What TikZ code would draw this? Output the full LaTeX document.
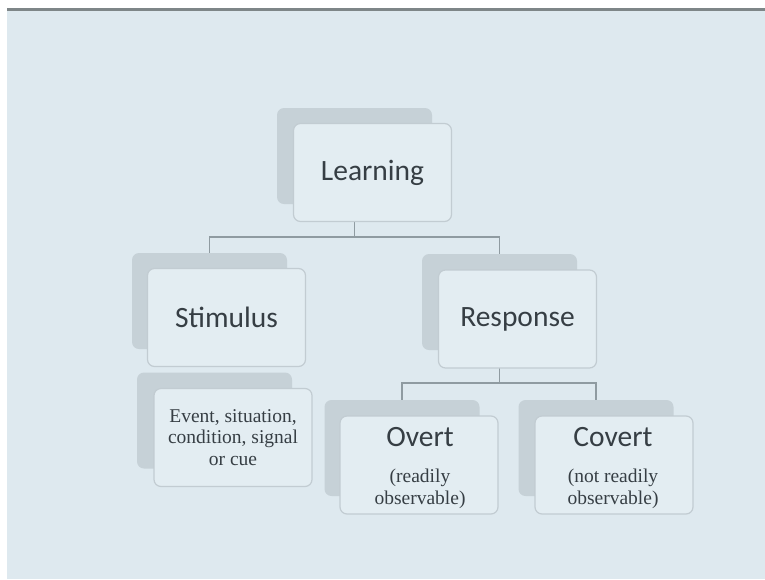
\documentclass[tikz,border=0pt]{standalone}
\usepackage{fontspec}
\setmainfont{Liberation Serif}
\newfontfamily\titlefont{Carlito}
\begin{document}
\begin{tikzpicture}[x=1pt,y=-1pt,
  every node/.style={text=inkgray},
  backbox/.style={rectangle,rounded corners=7pt,fill=shadebox,draw=none,
    minimum width=155pt,minimum height=96pt,inner sep=0pt},
  frontbox/.style={rectangle,rounded corners=7pt,fill=facebox,draw=edgebox,
    line width=1.2pt,minimum width=158pt,minimum height=98pt,inner sep=0pt,
    align=center},
  conn/.style={draw=linegray,line width=1.4pt},
  headtext/.style={font=\titlefont\fontsize{29.5}{31}\selectfont},
  notetext/.style={font=\fontsize{19.5}{21.5}\selectfont}
]
\definecolor{slide}{HTML}{DEE9EF}
\definecolor{shadebox}{HTML}{C6D1D7}
\definecolor{facebox}{HTML}{E3EDF2}
\definecolor{edgebox}{HTML}{C2CCD2}
\definecolor{linegray}{HTML}{8F9BA1}
\definecolor{inkgray}{HTML}{363E44}
\definecolor{rulegray}{HTML}{7E8688}

% slide area with its top rule
\useasboundingbox (0,0) rectangle (765,579);
\fill[white] (0,0) rectangle (765,579);
\fill[slide] (7,10) rectangle (765,579);
\fill[rulegray] (7,8) rectangle (765,10.5);

% shadow boxes
\node[backbox] (learnB) at (354.5,156) {};
\node[backbox] (stimB)  at (209.5,301) {};
\node[backbox] (respB)  at (499.5,302) {};
\node[backbox] (eventB) at (214.5,420.5) {};
\node[backbox] (overtB) at (402,448) {};
\node[backbox] (covB)   at (596,448) {};

% tree connectors
\draw[conn] (learnB.south) -- (learnB.south |- 0,237);
\draw[conn] (stimB.north) -- (stimB.north |- 0,237) -- (respB.north |- 0,237) -- (respB.north);
\draw[conn] (respB.south) -- (respB.south |- 0,383);
\draw[conn] (overtB.north) -- (overtB.north |- 0,383) -- (covB.north |- 0,383) -- (covB.north);

% front boxes
\node[frontbox,headtext] (learn) at (372.5,172.5) {Learning};
\node[frontbox,headtext] (stim)  at (226.5,317.5) {Stimulus};
\node[frontbox,headtext] (resp)  at (517.5,319) {Response};
\node[frontbox,notetext] (event) at (233,437.5) {Event, situation,\\condition, signal\\or cue};
\node[frontbox] (overt) at (419,465) {};
\node[frontbox] (cov)   at (614,465) {};
\node[headtext,anchor=base] (overtT) at (420,446) {Overt};
\node[notetext,align=center,anchor=base] (overtN) at (420,504) {(readily\\observable)};
\node[headtext,anchor=base] (covT) at (613,446) {Covert};
\node[notetext,align=center,anchor=base] (covN) at (613,504) {(not readily\\observable)};
\end{tikzpicture}
\end{document}
